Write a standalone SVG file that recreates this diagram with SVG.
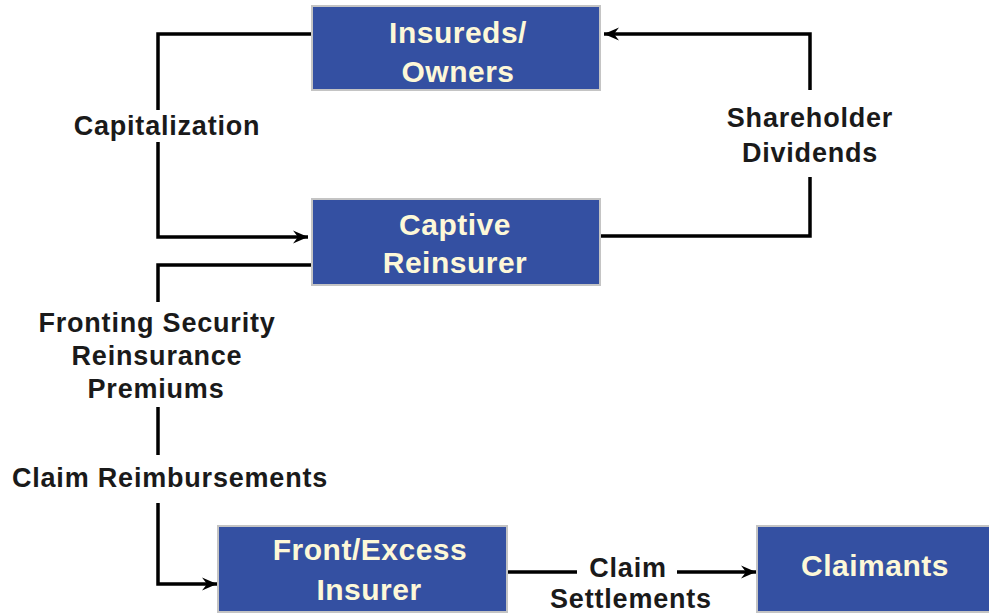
<svg xmlns="http://www.w3.org/2000/svg" width="989" height="615" viewBox="0 0 989 615">
  <style>
    .box { fill: #3450a2; stroke: #c4c4c4; stroke-width: 2; }
    .boxtext { font-family: "Liberation Sans", Arial, sans-serif; font-weight: bold; font-size: 30px; letter-spacing: 0.5px; fill: #fdf8d8; text-anchor: middle; }
    .label { font-family: "Liberation Sans", Arial, sans-serif; font-weight: bold; font-size: 27px; letter-spacing: 0.8px; fill: #1a1a1a; text-anchor: middle; }
    .wire { fill: none; stroke: #000; stroke-width: 3.5; stroke-linejoin: miter; }
  </style>
  <defs>
    <marker id="arrow" markerUnits="userSpaceOnUse" markerWidth="20" markerHeight="16" viewBox="-16 -8 20 16" refX="0" refY="0" orient="auto">
      <path d="M0,0 L-15,-6.5 L-10,0 L-15,6.5 Z" fill="#000"/>
    </marker>
  </defs>

  <rect width="989" height="615" fill="#fff"/>

  <!-- connectors -->
  <g id="connectors">
    <!-- Capitalization: owners to captive -->
    <path class="wire" d="M312,34 H158 V110"/>
    <path class="wire" d="M158,142 V237 H308" marker-end="url(#arrow)"/>
    <!-- Shareholder dividends: captive back to owners -->
    <path class="wire" d="M600,236 H810 V177"/>
    <path class="wire" d="M810,90 V34 H604" marker-end="url(#arrow)"/>
    <!-- Fronting security / claim reimbursements -->
    <path class="wire" d="M312,265 H158 V302"/>
    <path class="wire" d="M158,407 V455"/>
    <path class="wire" d="M158,503 V584 H217" marker-end="url(#arrow)"/>
    <!-- Claim settlements -->
    <path class="wire" d="M507,572 H577"/>
    <path class="wire" d="M677,572 H756" marker-end="url(#arrow)"/>

    <text class="label" x="167" y="135">Capitalization</text>
    <text class="label" x="810" y="127">Shareholder</text>
    <text class="label" x="810" y="162">Dividends</text>
    <text class="label" x="157" y="332">Fronting Security</text>
    <text class="label" x="157" y="365">Reinsurance</text>
    <text class="label" x="156" y="398">Premiums</text>
    <text class="label" x="170" y="487">Claim Reimbursements</text>
    <text class="label" x="628" y="577">Claim</text>
    <text class="label" x="631" y="608">Settlements</text>
  </g>

  <!-- nodes -->
  <g id="insureds-owners">
    <rect class="box" x="312" y="6" width="288" height="84"/>
    <text class="boxtext" x="458" y="43">Insureds/</text>
    <text class="boxtext" x="458" y="82">Owners</text>
  </g>

  <g id="captive-reinsurer">
    <rect class="box" x="312" y="199" width="288" height="86"/>
    <text class="boxtext" x="455" y="235">Captive</text>
    <text class="boxtext" x="455" y="273">Reinsurer</text>
  </g>

  <g id="front-excess-insurer">
    <rect class="box" x="218" y="526" width="289" height="86"/>
    <text class="boxtext" x="370" y="560">Front/Excess</text>
    <text class="boxtext" x="369" y="600">Insurer</text>
  </g>

  <g id="claimants">
    <rect class="box" x="757" y="526" width="260" height="86"/>
    <text class="boxtext" x="875" y="576">Claimants</text>
  </g>
</svg>
